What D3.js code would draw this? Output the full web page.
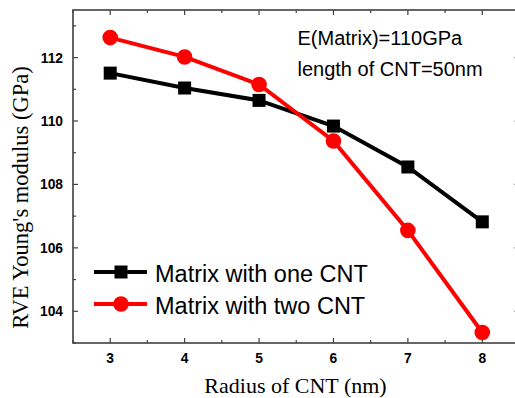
<!DOCTYPE html>
<html><head><meta charset="utf-8">
<script src="https://cdn.jsdelivr.net/npm/d3@7"></script>
<style>body{margin:0;background:#fff}svg{display:block}</style>
</head><body>
<script>
const radius = [3, 4, 5, 6, 7, 8];
const oneCNT = [111.51, 111.04, 110.65, 109.84, 108.55, 106.82];
const twoCNT = [112.63, 112.02, 111.15, 109.37, 106.55, 103.33];
const xTicks = [3, 4, 5, 6, 7, 8];
const yTicks = [104, 106, 108, 110, 112];
const seriesNames = ["Matrix with one CNT", "Matrix with two CNT"];
const annotations = ["E(Matrix)=110GPa", "length of CNT=50nm"];

const W = 515, H = 398;
const L = 73, T = 10, B = 343, R = 519.5;
const svg = d3.select("body").append("svg").attr("width", W).attr("height", H);
const x = d3.scaleLinear().domain([2.5, 8.5]).range([L, R]);
const y = d3.scaleLinear().domain([103, 113.5]).range([B, T]);
const axisColor = "#404040";

// minor + major ticks
const xMinor = d3.range(2.5, 8.51, 0.5);
const yMinor = d3.range(103, 113.51, 1);
const g = svg.append("g");
xMinor.forEach(v => {
  const l = Number.isInteger(v) ? 5 : 3;
  g.append("line").attr("x1", x(v)).attr("x2", x(v)).attr("y1", B).attr("y2", B - l).attr("stroke", axisColor).attr("stroke-width", 1.2);
  g.append("line").attr("x1", x(v)).attr("x2", x(v)).attr("y1", T).attr("y2", T + l).attr("stroke", axisColor).attr("stroke-width", 1.2);
});
yMinor.forEach(v => {
  const l = (v % 2 === 0) ? 5 : 3;
  g.append("line").attr("y1", y(v)).attr("y2", y(v)).attr("x1", L).attr("x2", L + l).attr("stroke", axisColor).attr("stroke-width", 1.2);
  g.append("line").attr("y1", y(v)).attr("y2", y(v)).attr("x1", R).attr("x2", R - l).attr("stroke", axisColor).attr("stroke-width", 1.2);
});
// frame
svg.append("rect").attr("x", L).attr("y", T).attr("width", R - L).attr("height", B - T)
  .attr("fill", "none").attr("stroke", axisColor).attr("stroke-width", 1.6);

// tick labels
svg.append("g").selectAll("text").data(xTicks).join("text")
  .attr("x", d => x(d)).attr("y", 363).attr("text-anchor", "middle")
  .attr("font-family", "Liberation Sans, Arial, sans-serif").attr("font-weight", "bold").attr("font-size", 13.8)
  .text(d => d);
svg.append("g").selectAll("text").data(yTicks).join("text")
  .attr("x", 63).attr("y", d => y(d) + 5).attr("text-anchor", "end")
  .attr("font-family", "Liberation Sans, Arial, sans-serif").attr("font-weight", "bold").attr("font-size", 13.8)
  .text(d => d);

// axis titles
svg.append("text").attr("x", 295.5).attr("y", 392.5).attr("text-anchor", "middle")
  .attr("font-family", "Liberation Serif, Times New Roman, serif").attr("font-size", 22)
  .text("Radius of CNT (nm)");
svg.append("text").attr("transform", "translate(27.5,197.5) rotate(-90)").attr("text-anchor", "middle")
  .attr("font-family", "Liberation Serif, Times New Roman, serif").attr("font-size", 22.5)
  .text("RVE Young's modulus (GPa)");

// lines
const line = d3.line().x(d => x(d[0])).y(d => y(d[1]));
const d1 = radius.map((r, i) => [r, oneCNT[i]]);
const d2 = radius.map((r, i) => [r, twoCNT[i]]);
svg.append("path").datum(d1).attr("d", line).attr("fill", "none").attr("stroke", "#000").attr("stroke-width", 4);
svg.append("path").datum(d2).attr("d", line).attr("fill", "none").attr("stroke", "#ff0000").attr("stroke-width", 4);
const sq = 13, cr = 7.8;
svg.append("g").selectAll("rect").data(d1).join("rect")
  .attr("x", d => x(d[0]) - sq / 2).attr("y", d => y(d[1]) - sq / 2).attr("width", sq).attr("height", sq).attr("fill", "#000");
svg.append("g").selectAll("circle").data(d2).join("circle")
  .attr("cx", d => x(d[0])).attr("cy", d => y(d[1])).attr("r", cr).attr("fill", "#ff0000");

// legend
const lg = svg.append("g");
const legY = [272, 304];
const colors = ["#000", "#ff0000"];
seriesNames.forEach((name, i) => {
  lg.append("line").attr("x1", 94).attr("x2", 147).attr("y1", legY[i]).attr("y2", legY[i]).attr("stroke", colors[i]).attr("stroke-width", 4);
  if (i === 0) lg.append("rect").attr("x", 121 - sq / 2).attr("y", legY[i] - sq / 2).attr("width", sq).attr("height", sq).attr("fill", colors[i]);
  else lg.append("circle").attr("cx", 121).attr("cy", legY[i]).attr("r", cr).attr("fill", colors[i]);
  lg.append("text").attr("x", 155).attr("y", legY[i] + 9.5)
    .attr("font-family", "Liberation Sans, Arial, sans-serif").attr("font-size", 23.5).text(name);
});

// annotations
const annY = [45, 76];
annotations.forEach((t, i) => {
  svg.append("text").attr("x", 297.5).attr("y", annY[i])
    .attr("font-family", "Liberation Sans, Arial, sans-serif").attr("font-size", 20).text(t);
});
</script>
</body></html>
